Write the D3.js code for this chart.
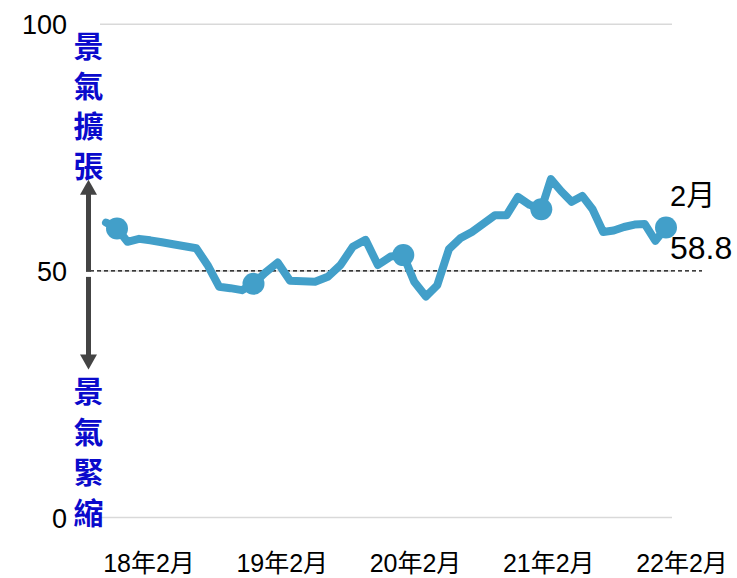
<!DOCTYPE html>
<html>
<head>
<meta charset="utf-8">
<script src="https://cdn.jsdelivr.net/npm/d3@7"></script>
<style>
	body { margin: 0; background: #fff; }
	text { font-family: "Liberation Sans", Arial, "Noto Sans CJK TC", sans-serif; }
</style>
</head>
<body>
<div id="chart"></div>
<script>

// DATA //
var months = [
	"2018-01","2018-02","2018-03","2018-04","2018-05","2018-06","2018-07","2018-08","2018-09","2018-10","2018-11","2018-12",
	"2019-01","2019-02","2019-03","2019-04","2019-05","2019-06","2019-07","2019-08","2019-09","2019-10","2019-11","2019-12",
	"2020-01","2020-02","2020-03","2020-04","2020-05","2020-06","2020-07","2020-08","2020-09","2020-10","2020-11","2020-12",
	"2021-01","2021-02","2021-03","2021-04","2021-05","2021-06","2021-07","2021-08","2021-09","2021-10","2021-11","2021-12",
	"2022-01","2022-02"
];
var values = [
	59.8, 58.6, 55.9, 56.5, 56.2, 55.8, 55.4, 55.0, 54.6, 51.2, 46.8, 46.5,
	46.1, 47.4, 49.6, 51.7, 48.0, 47.9, 47.8, 48.8, 51.2, 54.9, 56.3, 51.2,
	52.9, 53.2, 47.8, 44.8, 47.1, 54.4, 56.6, 57.9, 59.6, 61.3, 61.3, 65.0,
	63.4, 62.5, 68.6, 66.1, 64.0, 65.2, 62.5, 57.9, 58.2, 58.9, 59.4, 59.5,
	56.1, 58.8
];
var markerMonths = ["2018-02", "2019-02", "2020-02", "2021-02", "2022-02"];
var xLabels = ["18年2月", "19年2月", "20年2月", "21年2月", "22年2月"];
var yTicks = [0, 50, 100];
var upText = ["景", "氣", "擴", "張"];
var downText = ["景", "氣", "緊", "縮"];
var lastLabel = ["2月", "58.8"];

var parse = d3.timeParse("%Y-%m");
var data = months.map(function(m, i) { return {date: parse(m), key: m, value: values[i]}; });

var width = 737, height = 578;

var svg = d3.select("#chart").append("svg")
	.attr("width", width)
	.attr("height", height);

// SCALES //
var x = d3.scaleTime()
	.domain(["2018-01", "2018-02", "2019-02", "2020-02", "2021-02", "2022-02"].map(parse))
	.range([106, 117, 253.5, 403.3, 541.3, 666]);

var y = d3.scaleLinear()
	.domain([0, 100])
	.range([517.5, 24.3]);

var xLab = d3.scalePoint()
	.domain(xLabels)
	.range([149, 682]);

// GRID //
svg.selectAll(".grid")
	.data(yTicks)
	.enter().append("line")
	.attr("class", "grid")
	.attr("x1", 100)
	.attr("x2", 672)
	.attr("y1", function(d) { return y(d); })
	.attr("y2", function(d) { return y(d); })
	.attr("stroke", "#d9d9d9")
	.attr("stroke-width", 1.5);

svg.append("line")
	.attr("x1", 90)
	.attr("x2", 702)
	.attr("y1", y(50))
	.attr("y2", y(50))
	.attr("stroke", "#000")
	.attr("stroke-width", 1.3)
	.attr("stroke-dasharray", "4,3");

// Y TICK LABELS //
svg.selectAll(".ytick")
	.data(yTicks)
	.enter().append("text")
	.attr("class", "ytick")
	.attr("x", 67)
	.attr("y", function(d) { return y(d) + 10; })
	.attr("text-anchor", "end")
	.style("font-size", "27px")
	.attr("fill", "#000")
	.text(function(d) { return d; });

// X LABELS //
svg.selectAll(".xlab")
	.data(xLabels)
	.enter().append("text")
	.attr("class", "xlab")
	.attr("x", function(d) { return xLab(d); })
	.attr("y", 572)
	.attr("text-anchor", "middle")
	.style("font-size", "25px")
	.attr("fill", "#000")
	.text(function(d) { return d; });

// ARROWS //
var ax = 88.5;
var arrowColor = "#444";

svg.append("line")
	.attr("x1", ax).attr("x2", ax)
	.attr("y1", y(50) + 1).attr("y2", y(68.5) + 12)
	.attr("stroke", arrowColor).attr("stroke-width", 5);
svg.append("path")
	.attr("d", "M" + ax + "," + y(68.5) + "l8.5,15l-17,0z")
	.attr("fill", arrowColor);

svg.append("line")
	.attr("x1", ax).attr("x2", ax)
	.attr("y1", y(50) + 6).attr("y2", y(30) - 12)
	.attr("stroke", arrowColor).attr("stroke-width", 5);
svg.append("path")
	.attr("d", "M" + ax + "," + y(30) + "l8.5,-15l-17,0z")
	.attr("fill", arrowColor);

// SIDE TEXT //
svg.selectAll(".up")
	.data(upText)
	.enter().append("text")
	.attr("class", "up")
	.attr("x", ax)
	.attr("y", function(d, i) { return 44 + i * 40; })
	.attr("dominant-baseline", "central")
	.attr("text-anchor", "middle")
	.attr("font-weight", "bold")
	.attr("fill", "#0a0acc")
	.style("font-size", "30px")
	.style("font-family", "'Noto Sans CJK TC', sans-serif")
	.text(function(d) { return d; });

svg.selectAll(".down")
	.data(downText)
	.enter().append("text")
	.attr("class", "down")
	.attr("x", ax)
	.attr("y", function(d, i) { return 389 + i * 40.5; })
	.attr("dominant-baseline", "central")
	.attr("text-anchor", "middle")
	.attr("font-weight", "bold")
	.attr("fill", "#0a0acc")
	.style("font-size", "30px")
	.style("font-family", "'Noto Sans CJK TC', sans-serif")
	.text(function(d) { return d; });

// LINE //
var lineColor = "#429fc9";
var line = d3.line()
	.x(function(d) { return x(d.date); })
	.y(function(d) { return y(d.value); });

svg.append("path")
	.datum(data)
	.attr("d", line)
	.attr("fill", "none")
	.attr("stroke", lineColor)
	.attr("stroke-width", 8)
	.attr("stroke-linejoin", "round")
	.attr("stroke-linecap", "round");

svg.selectAll(".marker")
	.data(data.filter(function(d) { return markerMonths.indexOf(d.key) >= 0; }))
	.enter().append("circle")
	.attr("class", "marker")
	.attr("cx", function(d) { return x(d.date); })
	.attr("cy", function(d) { return y(d.value); })
	.attr("r", 11)
	.attr("fill", lineColor);

// LAST VALUE LABEL //
var last = data[data.length - 1];
svg.selectAll(".last")
	.data(lastLabel)
	.enter().append("text")
	.attr("class", "last")
	.attr("x", x(last.date) + 4)
	.attr("y", function(d, i) { return y(last.value) + (i === 0 ? -21 : 32); })
	.attr("fill", "#000")
	.style("font-size", function(d, i) { return i === 0 ? "29px" : "32px"; })
	.text(function(d) { return d; });

</script>
</body>
</html>
